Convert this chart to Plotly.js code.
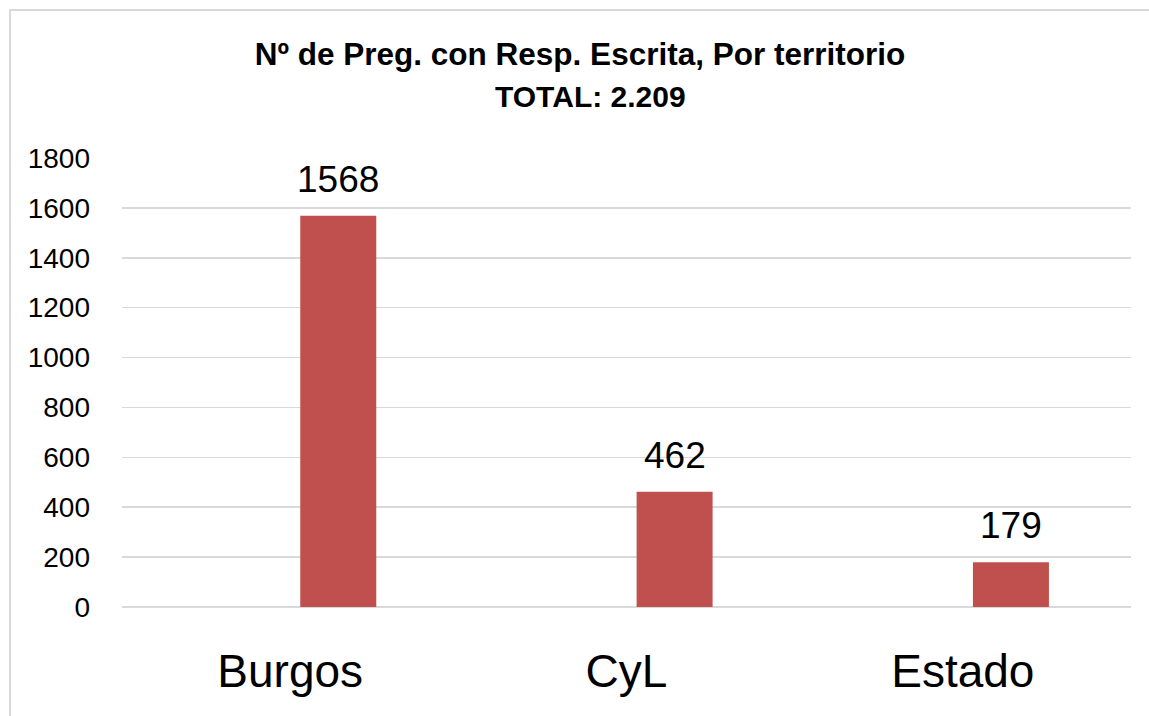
<!DOCTYPE html>
<html>
<head>
<meta charset="utf-8">
<script src="https://cdn.plot.ly/plotly-3.0.1.min.js"></script>
<style>
html,body{margin:0;padding:0;background:#fff;}
#chart{width:1149px;height:716px;}
</style>
</head>
<body>
<div id="chart"></div>
<script>
const categories = ["Burgos", "CyL", "Estado"];
const values = [1568, 462, 179];
const titleLine1 = "Nº de Preg. con Resp. Escrita, Por territorio";
const titleLine2 = "TOTAL: 2.209";

const FONT = "'Liberation Sans', Arial, sans-serif";
const TFONT = "'Liberation Sans', Arial, sans-serif";

const trace = {
  type: "bar",
  x: categories,
  y: values,
  width: 0.226,
  offset: 0.03,
  marker: {color: "#c0504d"},
  hoverinfo: "x+y"
};

const labelAnns = categories.map((c, i) => ({
  x: c, y: values[i], xref: "x", yref: "y",
  text: String(values[i]),
  showarrow: false, yanchor: "bottom", xshift: 48, yshift: 14,
  font: {family: FONT, size: 37, color: "#000"}
}));

const layout = {
  width: 1149, height: 716,
  margin: {l: 122, r: 18, t: 158, b: 109},
  paper_bgcolor: "#fff", plot_bgcolor: "#fff",
  showlegend: false,
  title: {
    text: "<b>" + titleLine1 + "</b>",
    x: (580 - 122) / 1009, xref: "paper", xanchor: "center",
    y: 1 - 54 / 716, yref: "container", yanchor: "middle",
    font: {family: TFONT, size: 31.5, color: "#000"}
  },
  annotations: labelAnns.concat([{
    x: (590 - 122) / 1009, xref: "paper", y: (607 - 96) / 449, yref: "paper",
    text: "<b>" + titleLine2 + "</b>", showarrow: false,
    xanchor: "center", yanchor: "middle",
    font: {family: TFONT, size: 30, color: "#000"}
  }]),
  xaxis: {
    type: "category",
    showgrid: false, zeroline: false, showline: false,
    ticks: "", ticklabelstandoff: 33,
    tickfont: {family: FONT, size: 46, color: "#000"}
  },
  yaxis: {
    range: [0, 1800], dtick: 200, tick0: 0,
    showgrid: true, gridcolor: "#d9d9d9", gridwidth: 1.5,
    zeroline: true, zerolinecolor: "#d9d9d9", zerolinewidth: 1.5,
    showline: false, ticks: "", ticklabelstandoff: 31,
    tickfont: {family: FONT, size: 28, color: "#000"}
  },
  shapes: [{
    type: "rect", xref: "paper", yref: "paper",
    x0: (10 - 122) / 1009, x1: 1.1,
    y0: -0.4, y1: (607 - 10) / 449,
    line: {color: "#d9d9d9", width: 2}, fillcolor: "rgba(0,0,0,0)",
    layer: "below"
  }]
};

Plotly.newPlot("chart", [trace], layout, {displayModeBar: false, staticPlot: true});
</script>
</body>
</html>
